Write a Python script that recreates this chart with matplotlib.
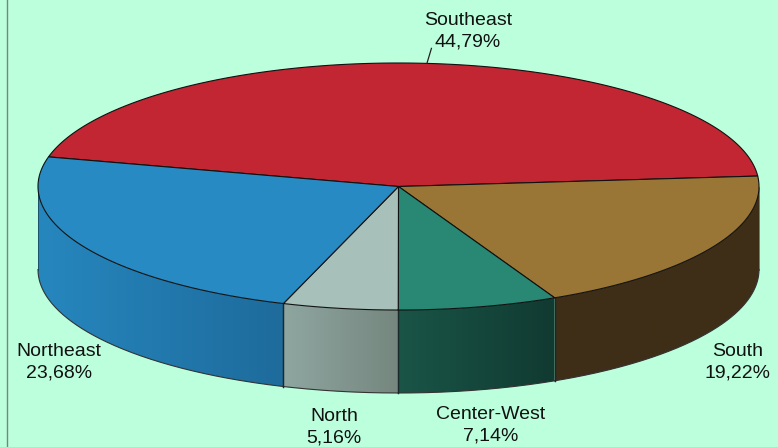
import numpy as np
import matplotlib.pyplot as plt
from matplotlib.colors import LinearSegmentedColormap
from matplotlib.patches import Polygon

labels = ['Southeast', 'South', 'Center-West', 'North', 'Northeast']
shares = [44.79, 19.22, 7.14, 5.16, 23.68]
share_text = ['44,79%', '19,22%', '7,14%', '5,16%', '23,68%']
top_colors = ['#C22632', '#997635', '#298874', '#A7C0BA', '#278AC2']
wall_left = ['#C22632', '#3F2E17', '#1A5548', '#8FA6A0', '#2687BE']
wall_right = ['#C22632', '#402F17', '#113A31', '#75877F', '#1E6B9C']
label_pos = [(468, 31), (738, 362), (491, 425), (334, 427), (59, 362)]

cx, cy, rx, ry, depth = 398.5, 186.5, 360.5, 123.5, 83
start = -76.1

plt.rcParams['font.family'] = ['Liberation Sans', 'DejaVu Sans']

fig = plt.figure(figsize=(7.78, 4.47), dpi=100, facecolor='#BBFFDD')
ax = fig.add_axes([0, 0, 1, 1])
ax.axis('off')


def rim(deg, drop=0.0):
    # angle runs clockwise from the back of the pie
    a = np.radians(deg)
    return cx + rx * np.sin(a), cy - ry * np.cos(a) + drop


# left border of the picture
ax.plot([7.5, 7.5], [0, 447], color='#808080', lw=1)

edges = start + np.cumsum([0] + shares) * 3.6

# side wall, only the part facing the viewer
for i in range(len(shares)):
    a0, a1 = max(edges[i], 90), min(edges[i + 1], 270)
    if a1 <= a0:
        continue
    steps = np.linspace(a0, a1, 200)
    x, y = rim(steps)
    cmap = LinearSegmentedColormap.from_list('w', [wall_left[i], wall_right[i]])
    outline = Polygon(np.c_[np.r_[x, x[::-1]], np.r_[y, y[::-1] + depth]],
                      closed=True, fc='none', ec='none', transform=ax.transData)
    ax.add_patch(outline)
    extent = (x.min(), x.max(), y.max() + depth, y.min())
    im = ax.imshow(np.linspace(0, 1, 256).reshape(1, -1), cmap=cmap, aspect='auto',
                   extent=extent, interpolation='bilinear', zorder=2)
    im.set_clip_path(outline)
    ax.plot(x, y + depth, color='#333333', lw=0.8, zorder=3)
    for d in (a0, a1):
        x0, y0 = rim(d)
        # the two outer ends of the wall only get a faint edge
        lw = 0.4 if d in (90, 270) else 0.9
        ax.plot([x0, x0], [y0, y0 + depth], color='#1a2a2a', lw=lw, zorder=3)

# top face
for i in range(len(shares)):
    t = np.linspace(edges[i], edges[i + 1], 200)
    x, y = rim(t)
    pts = np.c_[np.r_[cx, x], np.r_[cy, y]]
    ax.add_patch(Polygon(pts, closed=True, fc=top_colors[i], ec='#111111',
                         lw=0.8, joinstyle='round', zorder=4))

# labels
for name, txt, pos in zip(labels, share_text, label_pos):
    ax.text(pos[0], pos[1], name + '\n' + txt, ha='center', va='center',
            fontsize=14, color='#111111', linespacing=1.33, zorder=6)

# leader line of the largest slice
mid = edges[0] + shares[0] * 1.8
x0, y0 = rim(mid)
ax.plot([x0, x0 + 4.5], [y0, y0 - 15], color='#222222', lw=0.9, zorder=5)

ax.set_xlim(0, 778)
ax.set_ylim(447, 0)

fig.savefig('out.png', dpi=100, facecolor=fig.get_facecolor())
plt.close()
